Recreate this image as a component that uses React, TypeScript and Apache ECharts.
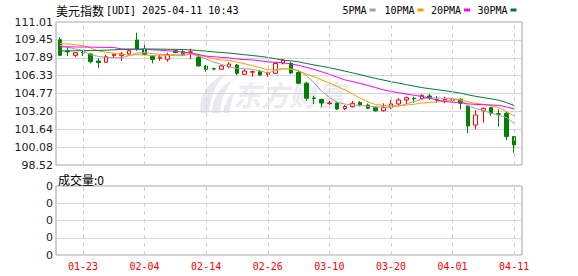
import React, { useEffect, useRef } from "react";
import * as echarts from "echarts";

const dates = [
  "01-20","01-21","01-22","01-23","01-24","01-27","01-28","01-29","01-30","01-31",
  "02-03","02-04","02-05","02-06","02-07","02-10","02-11","02-12","02-13","02-14",
  "02-17","02-18","02-19","02-20","02-21","02-24","02-25","02-26","02-27","02-28",
  "03-03","03-04","03-05","03-06","03-07","03-10","03-11","03-12","03-13","03-14",
  "03-17","03-18","03-19","03-20","03-21","03-24","03-25","03-26","03-27","03-28",
  "03-31","04-01","04-02","04-03","04-04","04-07","04-08","04-09","04-10","04-11",
];

const opens = [
  109.46,108.48,108.10,108.35,108.22,107.60,107.49,108.07,108.07,108.22,
  109.44,108.64,108.02,107.84,107.75,108.50,108.42,108.37,107.93,107.17,
  106.93,106.88,107.11,107.25,106.44,106.63,106.67,106.43,106.53,107.43,
  107.40,106.60,105.66,104.38,104.24,103.89,103.93,103.45,103.61,103.98,
  103.76,103.53,103.26,103.56,103.85,104.20,104.35,104.31,104.55,104.22,
  104.05,104.18,104.26,103.67,102.01,103.26,103.53,103.00,103.04,101.00,
];
const closes = [
  108.10,108.40,108.33,108.31,107.54,107.46,107.98,108.19,108.22,108.50,
  108.63,108.17,107.73,107.93,108.17,108.35,108.16,108.40,107.17,106.88,
  106.90,107.17,107.34,106.53,106.73,106.67,106.38,106.55,107.38,107.69,
  106.56,105.66,104.35,104.33,103.93,103.93,103.41,103.63,103.91,103.76,
  103.47,103.25,103.53,103.85,104.20,104.40,104.30,104.61,104.40,104.18,
  104.26,104.22,103.91,101.93,102.89,103.47,103.04,102.96,101.00,100.27,
];
const lows = [
  108.03,108.04,107.93,108.04,107.40,107.02,107.47,107.89,107.63,108.10,
  108.50,108.10,107.40,107.63,107.54,108.28,108.04,107.75,107.11,106.67,
  106.79,106.85,106.97,106.38,106.38,106.23,106.29,106.23,106.47,107.30,
  106.47,105.59,104.14,103.85,103.56,103.55,103.32,103.32,103.54,103.63,
  103.41,103.19,103.19,103.39,103.76,103.85,103.96,104.26,104.20,103.96,
  103.91,104.05,103.39,101.29,101.64,102.22,102.83,101.87,100.70,99.59,
];
const highs = [
  109.67,108.85,108.39,108.56,108.28,107.84,108.13,108.28,108.39,108.63,
  110.08,109.20,108.13,108.13,108.33,108.59,108.56,108.68,108.22,107.25,
  107.02,107.25,107.49,107.34,106.88,106.76,106.82,106.67,107.45,107.82,
  107.54,106.73,105.80,104.55,104.33,104.15,104.05,103.76,104.11,104.11,
  103.89,103.63,103.91,104.20,104.35,104.49,104.49,104.70,104.72,104.55,
  104.49,104.35,104.35,103.76,103.32,103.53,103.61,103.39,103.15,101.05,
];

const ma5 = [
  108.97,108.80,108.66,108.50,108.14,108.01,107.92,107.90,107.88,108.07,
  108.30,108.34,108.25,108.19,108.13,108.07,108.07,108.20,108.05,107.79,
  107.50,107.30,107.09,106.96,106.93,106.89,106.73,106.57,106.74,106.93,
  106.91,106.77,106.33,105.72,104.97,104.44,103.99,103.85,103.76,103.73,
  103.64,103.60,103.58,103.57,103.66,103.85,104.06,104.27,104.38,104.38,
  104.35,104.33,104.19,103.70,103.44,103.28,103.05,102.86,102.67,102.15,
];
const ma10 = [
  109.13,109.10,109.03,108.95,108.74,108.49,108.36,108.28,108.19,108.10,
  108.16,108.13,108.08,108.04,108.10,108.19,108.21,108.23,108.12,107.96,
  107.79,107.69,107.65,107.51,107.36,107.20,107.02,106.83,106.85,106.93,
  106.90,106.75,106.45,106.23,105.95,105.68,105.38,105.09,104.74,104.35,
  104.04,103.80,103.72,103.67,103.70,103.75,103.83,103.93,103.98,104.02,
  104.10,104.20,104.23,104.04,103.91,103.82,103.69,103.53,103.19,102.80,
];
const ma20 = [
  108.84,108.84,108.83,108.83,108.82,108.80,108.79,108.78,108.66,108.64,
  108.63,108.62,108.58,108.55,108.50,108.45,108.38,108.30,108.17,108.03,
  107.98,107.91,107.87,107.78,107.73,107.70,107.62,107.53,107.49,107.45,
  107.35,107.22,107.05,106.87,106.66,106.44,106.20,105.96,105.80,105.64,
  105.47,105.28,105.09,104.95,104.83,104.72,104.61,104.51,104.36,104.19,
  104.07,104.00,103.98,103.86,103.81,103.79,103.76,103.73,103.59,103.41,
];
const ma30 = [
  108.48,108.49,108.50,108.51,108.52,108.53,108.55,108.58,108.61,108.63,
  108.64,108.65,108.65,108.64,108.63,108.62,108.60,108.57,108.52,108.46,
  108.40,108.35,108.29,108.22,108.15,108.08,108.01,107.92,107.80,107.67,
  107.62,107.53,107.39,107.26,107.14,107.02,106.87,106.72,106.57,106.41,
  106.24,106.08,105.94,105.80,105.67,105.54,105.41,105.28,105.19,105.10,
  105.01,104.91,104.80,104.65,104.52,104.41,104.30,104.18,103.97,103.72,
];
const volumes = [
  0,0,0,0,0,0,0,0,0,0, 0,0,0,0,0,0,0,0,0,0, 0,0,0,0,0,0,0,0,0,0,
  0,0,0,0,0,0,0,0,0,0, 0,0,0,0,0,0,0,0,0,0, 0,0,0,0,0,0,0,0,0,0,
];

const priceTicks = ["98.52","100.08","101.64","103.20","104.77","106.33","107.89","109.45","111.01"];
const volumeTicks = ["0","0","0","0","0"];
const labelDates = ["01-23","02-04","02-14","02-26","03-10","03-20","04-01","04-11"];
const priceMin = 98.52;
const priceMax = 111.01;

const maNames = ["5PMA", "10PMA", "20PMA", "30PMA"];
const maColors = ["#a0a0a0", "#f5a000", "#ff00ff", "#007a33"];
const maSeries = [ma5, ma10, ma20, ma30];

const titleCn = "美元指数";
const titleEn = "[UDI] 2025-04-11 10:43";
const volumeTitle = "成交量:0";
const watermark = "东方财富";

const MONO = "'DejaVu Sans Mono', 'Liberation Mono', monospace";
const CJK = "'Noto Sans CJK SC', sans-serif";

const LOGO_D =
  "M4 40 C1 24 10 8 30 0 C19 10 13 24 12 40 Z " +
  "M15 40 C15 27 22 13 36 7 C28 16 24 27 23 40 Z " +
  "M26 40 C27 31 31 23 37 19 C35 27 33 33 32 40 Z";
try {
  echarts.graphic.registerShape("dcLogo", echarts.graphic.extendPath(LOGO_D, {}) as any);
} catch (e) {
  /* ignore */
}

export default function App() {
  const ref = useRef<HTMLDivElement>(null);
  useEffect(() => {
    if (!ref.current) return;
    const chart = echarts.init(ref.current, null, { renderer: "svg" });
    const candleData = opens.map((o, i) => [o, closes[i], lows[i], highs[i]]);
    const legendX = [342.5, 384.5, 431, 477.5];
    const swatchX = [369.5, 417.5, 464, 510.5];

    const graphics: any[] = [
      { type: "text", x: 56, y: 10, style: { text: titleCn, fontFamily: CJK, fontSize: 12, fill: "#000", verticalAlign: "middle" } },
      { type: "text", x: 106, y: 10, style: { text: titleEn, fontFamily: MONO, fontSize: 10, fill: "#000", verticalAlign: "middle" } },
      { type: "text", x: 58, y: 179.5, style: { text: volumeTitle, fontFamily: CJK, fontSize: 12, fill: "#000", verticalAlign: "middle" } },
      { type: "dcLogo", x: 197, y: 73, scaleX: 1.0, scaleY: 1.0, z: -10, style: { fill: "#e9e9ef" } },
      { type: "text", x: 233, y: 94, z: -10, style: { text: watermark, fontFamily: CJK, fontSize: 28, fontWeight: "bold", fontStyle: "italic", fill: "#ebebf0", verticalAlign: "middle" } },
    ];
    maNames.forEach((n, i) => {
      graphics.push({ type: "text", x: legendX[i], y: 10, style: { text: n, fontFamily: MONO, fontSize: 10, fill: "#000", verticalAlign: "middle" } });
      graphics.push({ type: "rect", shape: { x: swatchX[i], y: 8.5, width: 6, height: 3 }, style: { fill: maColors[i] } });
    });

    const dashLine = {
      symbol: ["none", "none"],
      silent: true,
      animation: false,
      label: { show: false },
      lineStyle: { type: [4, 4], color: "#cfcfcf", width: 1 },
      data: labelDates.map((d) => ({ xAxis: d })),
    };

    const option: any = {
      animation: false,
      backgroundColor: "#ffffff",
      graphic: graphics,
      grid: [
        { left: 56, top: 22, width: 466, height: 143, show: true, borderColor: "#a0a0a0", borderWidth: 1, backgroundColor: "transparent" },
        { left: 56, top: 22, width: 462, height: 143 },
        { left: 56, top: 186, width: 466, height: 69, show: true, borderColor: "#a0a0a0", borderWidth: 1, backgroundColor: "transparent" },
        { left: 56, top: 186, width: 462, height: 69 },
      ],
      xAxis: [
        { gridIndex: 0, type: "value", min: 0, max: 1, show: false },
        { gridIndex: 1, type: "category", data: dates, boundaryGap: true, axisLine: { show: false }, axisTick: { show: false }, axisLabel: { show: false }, splitLine: { show: false } },
        { gridIndex: 2, type: "value", min: 0, max: 1, show: false },
        {
          gridIndex: 3, type: "category", data: dates, boundaryGap: true,
          axisLine: { show: false }, axisTick: { show: false }, splitLine: { show: false },
          axisLabel: {
            interval: (_i: number, v: string) => labelDates.includes(v),
            color: "#ff0000", fontFamily: MONO, fontSize: 10, margin: 6,
          },
        },
      ],
      yAxis: [
        {
          gridIndex: 0, type: "value", min: 0, max: 8, interval: 1,
          axisLine: { show: false }, axisTick: { show: false },
          axisLabel: { formatter: (v: number) => priceTicks[v], fontFamily: "'DejaVu Sans', sans-serif", fontSize: 11, color: "#222", margin: 3 },
          splitLine: { lineStyle: { color: "#d6d6d6" } },
        },
        { gridIndex: 1, type: "value", min: priceMin, max: priceMax, show: false },
        {
          gridIndex: 2, type: "value", min: 0, max: 4, interval: 1,
          axisLine: { show: false }, axisTick: { show: false },
          axisLabel: { formatter: (v: number) => volumeTicks[v], fontFamily: "'DejaVu Sans', sans-serif", fontSize: 11, color: "#222", margin: 3 },
          splitLine: { lineStyle: { color: "#d6d6d6" } },
        },
        { gridIndex: 3, type: "value", min: 0, max: 4, show: false },
      ],
      series: [
        ...maSeries.map((d, i) => ({
          type: "line", name: maNames[i], xAxisIndex: 1, yAxisIndex: 1, data: d,
          symbol: "none", showSymbol: false, silent: true,
          lineStyle: { color: maColors[i], width: 1 }, itemStyle: { color: maColors[i] },
        })),
        {
          type: "candlestick", xAxisIndex: 1, yAxisIndex: 1, data: candleData, barWidth: 4,
          itemStyle: { color: "#ffffff", color0: "#008000", borderColor: "#ff0000", borderColor0: "#008000", borderWidth: 1 },
          markLine: dashLine,
        },
        {
          type: "bar", xAxisIndex: 3, yAxisIndex: 3, data: volumes, silent: true,
          itemStyle: { color: "#008000" }, markLine: dashLine,
        },
      ],
    };
    chart.setOption(option);
    return () => chart.dispose();
  }, []);
  return <div ref={ref} style={{ position: "fixed", left: 0, top: 0, width: 578, height: 276, background: "#fff" }} />;
}
